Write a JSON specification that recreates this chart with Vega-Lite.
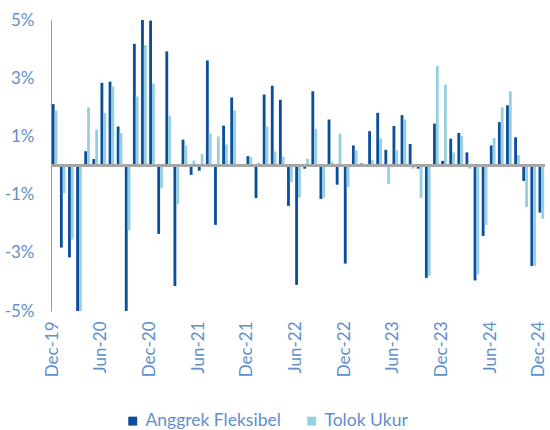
{
  "$schema": "https://vega.github.io/schema/vega-lite/v6.json",
  "width": 494,
  "height": 291,
  "autosize": {"type": "none"},
  "padding": {"left": 51, "top": 20, "right": 5, "bottom": 119},
  "background": "white",
  "config": {
    "view": {"stroke": null},
    "font": "Lato",
    "axis": {"labelFont": "Lato", "labelColor": "#6090cc", "labelFontSize": 17, "grid": false, "ticks": false},
    "legend": {"labelFont": "Lato", "labelColor": "#6090cc", "labelFontSize": 17.5}
  },
  "data": {
    "values": [
      {"m": "Dec-19", "Anggrek Fleksibel": 2.11, "Tolok Ukur": 1.89},
      {"m": "Jan-20", "Anggrek Fleksibel": -2.82, "Tolok Ukur": -0.95},
      {"m": "Feb-20", "Anggrek Fleksibel": -3.16, "Tolok Ukur": -2.54},
      {"m": "Mar-20", "Anggrek Fleksibel": -5.0, "Tolok Ukur": -5.0},
      {"m": "Apr-20", "Anggrek Fleksibel": 0.49, "Tolok Ukur": 2.0},
      {"m": "May-20", "Anggrek Fleksibel": 0.22, "Tolok Ukur": 1.23},
      {"m": "Jun-20", "Anggrek Fleksibel": 2.84, "Tolok Ukur": 1.8},
      {"m": "Jul-20", "Anggrek Fleksibel": 2.88, "Tolok Ukur": 2.71},
      {"m": "Aug-20", "Anggrek Fleksibel": 1.34, "Tolok Ukur": 1.12},
      {"m": "Sep-20", "Anggrek Fleksibel": -5.0, "Tolok Ukur": -2.23},
      {"m": "Oct-20", "Anggrek Fleksibel": 4.18, "Tolok Ukur": 2.37},
      {"m": "Nov-20", "Anggrek Fleksibel": 5.0, "Tolok Ukur": 4.14},
      {"m": "Dec-20", "Anggrek Fleksibel": 4.98, "Tolok Ukur": 2.82},
      {"m": "Jan-21", "Anggrek Fleksibel": -2.35, "Tolok Ukur": -0.78},
      {"m": "Feb-21", "Anggrek Fleksibel": 3.92, "Tolok Ukur": 1.71},
      {"m": "Mar-21", "Anggrek Fleksibel": -4.14, "Tolok Ukur": -1.33},
      {"m": "Apr-21", "Anggrek Fleksibel": 0.89, "Tolok Ukur": 0.69},
      {"m": "May-21", "Anggrek Fleksibel": -0.32, "Tolok Ukur": 0.17},
      {"m": "Jun-21", "Anggrek Fleksibel": -0.18, "Tolok Ukur": 0.39},
      {"m": "Jul-21", "Anggrek Fleksibel": 3.61, "Tolok Ukur": 1.1},
      {"m": "Aug-21", "Anggrek Fleksibel": -2.04, "Tolok Ukur": 1.0},
      {"m": "Sep-21", "Anggrek Fleksibel": 1.37, "Tolok Ukur": 0.72},
      {"m": "Oct-21", "Anggrek Fleksibel": 2.34, "Tolok Ukur": 1.89},
      {"m": "Nov-21", "Anggrek Fleksibel": -0.03, "Tolok Ukur": -0.05},
      {"m": "Dec-21", "Anggrek Fleksibel": 0.32, "Tolok Ukur": 0.29},
      {"m": "Jan-22", "Anggrek Fleksibel": -1.12, "Tolok Ukur": 0.1},
      {"m": "Feb-22", "Anggrek Fleksibel": 2.44, "Tolok Ukur": 1.34},
      {"m": "Mar-22", "Anggrek Fleksibel": 2.74, "Tolok Ukur": 0.48},
      {"m": "Apr-22", "Anggrek Fleksibel": 2.26, "Tolok Ukur": 0.3},
      {"m": "May-22", "Anggrek Fleksibel": -1.39, "Tolok Ukur": -0.57},
      {"m": "Jun-22", "Anggrek Fleksibel": -4.1, "Tolok Ukur": -1.11},
      {"m": "Jul-22", "Anggrek Fleksibel": -0.11, "Tolok Ukur": 0.23},
      {"m": "Aug-22", "Anggrek Fleksibel": 2.55, "Tolok Ukur": 1.26},
      {"m": "Sep-22", "Anggrek Fleksibel": -1.15, "Tolok Ukur": -1.11},
      {"m": "Oct-22", "Anggrek Fleksibel": 1.58, "Tolok Ukur": 0.14},
      {"m": "Nov-22", "Anggrek Fleksibel": -0.66, "Tolok Ukur": 1.09},
      {"m": "Dec-22", "Anggrek Fleksibel": -3.37, "Tolok Ukur": -0.74},
      {"m": "Jan-23", "Anggrek Fleksibel": 0.69, "Tolok Ukur": 0.52},
      {"m": "Feb-23", "Anggrek Fleksibel": 0.07, "Tolok Ukur": 0.05},
      {"m": "Mar-23", "Anggrek Fleksibel": 1.18, "Tolok Ukur": 0.18},
      {"m": "Apr-23", "Anggrek Fleksibel": 1.81, "Tolok Ukur": 0.93},
      {"m": "May-23", "Anggrek Fleksibel": 0.54, "Tolok Ukur": -0.64},
      {"m": "Jun-23", "Anggrek Fleksibel": 1.36, "Tolok Ukur": 0.52},
      {"m": "Jul-23", "Anggrek Fleksibel": 1.73, "Tolok Ukur": 1.58},
      {"m": "Aug-23", "Anggrek Fleksibel": 0.74, "Tolok Ukur": -0.11},
      {"m": "Sep-23", "Anggrek Fleksibel": -0.11, "Tolok Ukur": -1.12},
      {"m": "Oct-23", "Anggrek Fleksibel": -3.86, "Tolok Ukur": -3.79},
      {"m": "Nov-23", "Anggrek Fleksibel": 1.44, "Tolok Ukur": 3.42},
      {"m": "Dec-23", "Anggrek Fleksibel": 0.16, "Tolok Ukur": 2.78},
      {"m": "Jan-24", "Anggrek Fleksibel": 0.92, "Tolok Ukur": 0.45},
      {"m": "Feb-24", "Anggrek Fleksibel": 1.12, "Tolok Ukur": 1.02},
      {"m": "Mar-24", "Anggrek Fleksibel": 0.45, "Tolok Ukur": -0.11},
      {"m": "Apr-24", "Anggrek Fleksibel": -3.95, "Tolok Ukur": -3.74},
      {"m": "May-24", "Anggrek Fleksibel": -2.42, "Tolok Ukur": -2.04},
      {"m": "Jun-24", "Anggrek Fleksibel": 0.69, "Tolok Ukur": 0.94},
      {"m": "Jul-24", "Anggrek Fleksibel": 1.49, "Tolok Ukur": 2.0},
      {"m": "Aug-24", "Anggrek Fleksibel": 2.07, "Tolok Ukur": 2.55},
      {"m": "Sep-24", "Anggrek Fleksibel": 0.97, "Tolok Ukur": 0.36},
      {"m": "Oct-24", "Anggrek Fleksibel": -0.53, "Tolok Ukur": -1.43},
      {"m": "Nov-24", "Anggrek Fleksibel": -3.45, "Tolok Ukur": -3.45},
      {"m": "Dec-24", "Anggrek Fleksibel": -1.62, "Tolok Ukur": -1.83}
    ]
  },
  "layer": [
    {
      "transform": [{"fold": ["Anggrek Fleksibel", "Tolok Ukur"], "as": ["series", "value"]}],
      "mark": {"type": "bar", "clip": true},
      "encoding": {
        "x": {
          "field": "m", "type": "nominal", "sort": null,
          "scale": {"paddingInner": 0.3, "paddingOuter": 0.1},
          "axis": {
            "title": null, "domain": false, "labelAngle": -90, "labelAlign": "right", "labelBaseline": "middle",
            "labelPadding": 10, "labelOffset": -2,
            "labelExpr": "(substring(datum.label, 0, 3) == 'Dec' || substring(datum.label, 0, 3) == 'Jun') ? datum.label : ''"
          }
        },
        "xOffset": {"field": "series", "type": "nominal", "sort": ["Anggrek Fleksibel", "Tolok Ukur"]},
        "y": {
          "field": "value", "type": "quantitative",
          "scale": {"domain": [-5, 5], "nice": false, "zero": false},
          "axis": {
            "title": null, "values": [-5, -3, -1, 1, 3, 5], "domain": true, "domainColor": "#999999", "domainWidth": 1,
            "labelPadding": 17, "labelExpr": "datum.value + '%'"
          }
        },
        "color": {
          "field": "series", "type": "nominal",
          "scale": {"domain": ["Anggrek Fleksibel", "Tolok Ukur"], "range": ["#0b4f9c", "#96d0df"]},
          "legend": {
            "title": null, "orient": "none", "legendX": 73, "legendY": 392, "direction": "horizontal",
            "symbolType": "square", "symbolSize": 80, "symbolStrokeWidth": 0, "labelOffset": 4, "columnPadding": 22
          }
        }
      }
    },
    {
      "mark": {"type": "rule", "color": "#a6a6a6", "strokeWidth": 1.5},
      "encoding": {"y": {"datum": 0, "type": "quantitative"}}
    }
  ]
}
